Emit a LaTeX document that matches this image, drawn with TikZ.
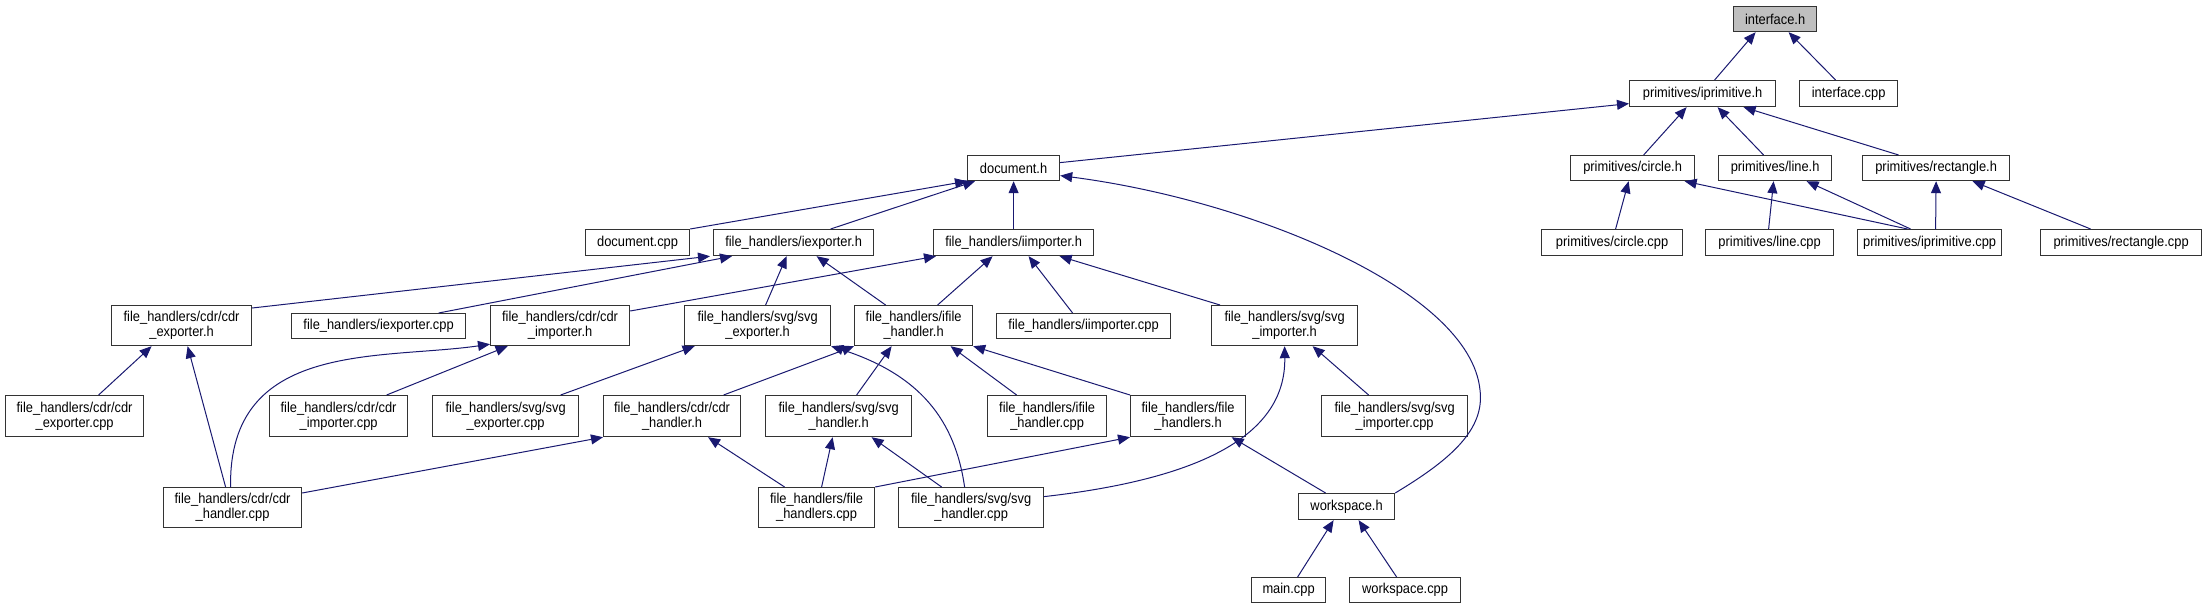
\documentclass[tikz,border=0pt]{standalone}
\usepackage{fontspec}
\setmainfont{Liberation Sans}[FakeStretch=0.9]
\usetikzlibrary{arrows.meta}
\definecolor{edgec}{RGB}{25,25,112}
\definecolor{boxgray}{RGB}{191,191,191}
\begin{document}
\begin{tikzpicture}[x=1pt,y=-1pt,
  box/.style={draw=black!80, line width=1.2pt, fill=white, inner sep=0pt, align=center, anchor=north west, font=\fontsize{14.3pt}{14.8pt}\selectfont},
  edge/.style={draw=edgec, line width=1pt, -{Triangle[length=12pt,width=10pt]}}]
\useasboundingbox (0,0) rectangle (2205,608);
% row 0
\node[box, fill=boxgray, minimum width=83pt, minimum height=25pt] (interface) at (1733,6) {interface.h};
% row 1
\node[box, minimum width=146pt, minimum height=26pt] (iprimitive) at (1629,80) {primitives/iprimitive.h};
\node[box, minimum width=98pt, minimum height=26pt] (interfacecpp) at (1799,80) {interface.cpp};
% row 2
\node[box, minimum width=92pt, minimum height=25pt] (document) at (967,155) {document.h};
\node[box, minimum width=124pt, minimum height=25pt] (circleh) at (1570,155) {primitives/circle.h};
\node[box, minimum width=113pt, minimum height=25pt] (lineh) at (1718,155) {primitives/line.h};
\node[box, minimum width=147pt, minimum height=25pt] (recth) at (1862,155) {primitives/rectangle.h};
% row 3
\node[box, minimum width=104pt, minimum height=26pt] (documentcpp) at (585,229) {document.cpp};
\node[box, minimum width=160pt, minimum height=26pt] (iexporter) at (713,229) {file\_handlers/iexporter.h};
\node[box, minimum width=160pt, minimum height=26pt] (iimporter) at (933,229) {file\_handlers/iimporter.h};
\node[box, minimum width=141pt, minimum height=26pt] (circlecpp) at (1541,229) {primitives/circle.cpp};
\node[box, minimum width=128pt, minimum height=26pt] (linecpp) at (1705,229) {primitives/line.cpp};
\node[box, minimum width=144pt, minimum height=26pt] (iprimcpp) at (1857,229) {primitives/iprimitive.cpp};
\node[box, minimum width=161pt, minimum height=26pt] (rectcpp) at (2040,229) {primitives/rectangle.cpp};
% row 4
\node[box, minimum width=140pt, minimum height=40pt] (cdrexph) at (111,305) {file\_handlers/cdr/cdr\\\_exporter.h};
\node[box, minimum width=174pt, minimum height=25pt] (iexportercpp) at (291,313) {file\_handlers/iexporter.cpp};
\node[box, minimum width=139pt, minimum height=40pt] (cdrimph) at (490,305) {file\_handlers/cdr/cdr\\\_importer.h};
\node[box, minimum width=146pt, minimum height=40pt] (svgexph) at (684,305) {file\_handlers/svg/svg\\\_exporter.h};
\node[box, minimum width=118pt, minimum height=40pt] (ifileh) at (854,305) {file\_handlers/ifile\\\_handler.h};
\node[box, minimum width=174pt, minimum height=25pt] (iimportercpp) at (996,313) {file\_handlers/iimporter.cpp};
\node[box, minimum width=146pt, minimum height=40pt] (svgimph) at (1211,305) {file\_handlers/svg/svg\\\_importer.h};
% row 5
\node[box, minimum width=138pt, minimum height=41pt] (cdrexpcpp) at (5,395) {file\_handlers/cdr/cdr\\\_exporter.cpp};
\node[box, minimum width=138pt, minimum height=41pt] (cdrimpcpp) at (269,395) {file\_handlers/cdr/cdr\\\_importer.cpp};
\node[box, minimum width=146pt, minimum height=41pt] (svgexpcpp) at (432,395) {file\_handlers/svg/svg\\\_exporter.cpp};
\node[box, minimum width=137pt, minimum height=41pt] (cdrhandh) at (603,395) {file\_handlers/cdr/cdr\\\_handler.h};
\node[box, minimum width=146pt, minimum height=41pt] (svghandh) at (765,395) {file\_handlers/svg/svg\\\_handler.h};
\node[box, minimum width=119pt, minimum height=41pt] (ifilecpp) at (987,395) {file\_handlers/ifile\\\_handler.cpp};
\node[box, minimum width=115pt, minimum height=41pt] (fhandh) at (1130,395) {file\_handlers/file\\\_handlers.h};
\node[box, minimum width=146pt, minimum height=41pt] (svgimpcpp) at (1321,395) {file\_handlers/svg/svg\\\_importer.cpp};
% row 6
\node[box, minimum width=138pt, minimum height=40pt] (cdrhandcpp) at (163,487) {file\_handlers/cdr/cdr\\\_handler.cpp};
\node[box, minimum width=116pt, minimum height=40pt] (fhandcpp) at (758,487) {file\_handlers/file\\\_handlers.cpp};
\node[box, minimum width=145pt, minimum height=40pt] (svghandcpp) at (898,487) {file\_handlers/svg/svg\\\_handler.cpp};
\node[box, minimum width=96pt, minimum height=26pt] (workspace) at (1298,493) {workspace.h};
% row 7
\node[box, minimum width=74pt, minimum height=25pt] (maincpp) at (1251,577) {main.cpp};
\node[box, minimum width=111pt, minimum height=25pt] (workspacecpp) at (1349,577) {workspace.cpp};
% edges
\draw[edge] ([xshift=12pt]iprimitive.north) -- ([xshift=-19.5pt]interface.south);
\draw[edge] ([xshift=-13pt]interfacecpp.north) -- ([xshift=13.5pt]interface.south);
\draw[edge] ([yshift=5.5pt]document.east) -- ([yshift=-10pt]iprimitive.west);
\draw[edge] ([xshift=11pt]circleh.north) -- ([xshift=-16pt]iprimitive.south);
\draw[edge] ([xshift=-11.5pt]lineh.north) -- ([xshift=15pt]iprimitive.south);
\draw[edge] ([xshift=-37.5pt]recth.north) -- ([xshift=41pt]iprimitive.south);
\draw[edge] ([xshift=3.5pt]circlecpp.north) -- ([xshift=-4pt]circleh.south);
\draw[edge] ([xshift=-22pt]iprimcpp.north) -- ([xshift=52pt]circleh.south);
\draw[edge] ([xshift=-1pt]linecpp.north) -- ([xshift=-1.5pt]lineh.south);
\draw[edge] ([xshift=-19pt]iprimcpp.north) -- ([xshift=31.5pt]lineh.south);
\draw[edge] ([xshift=6pt]iprimcpp.north) -- (recth.south);
\draw[edge] ([xshift=-30.5pt]rectcpp.north) -- ([xshift=36.5pt]recth.south);
\draw[edge] (documentcpp.north east) -- (document.south west);
\draw[edge] ([xshift=37pt]iexporter.north) -- ([xshift=8pt]document.south west);
\draw[edge] (iimporter.north) -- (document.south);
\draw[edge] (workspace.north east) .. controls (1450,460) and (1485,430) .. (1480,390) .. controls (1470,290) and (1250,200) .. ([yshift=-7.5pt]document.east);
\draw[edge] ([yshift=-3pt]cdrexph.north east) -- ([xshift=-3pt]iexporter.south west);
\draw[edge] ([xshift=60pt]iexportercpp.north) -- ([xshift=19pt]iexporter.south west);
\draw[edge] ([xshift=8pt]svgexph.north) -- ([xshift=-7pt]iexporter.south);
\draw[edge] ([xshift=-28pt]ifileh.north) -- ([xshift=23pt]iexporter.south);
\draw[edge] ([yshift=-6pt]cdrimph.north east) -- ([xshift=3pt]iimporter.south west);
\draw[edge] ([xshift=24pt]ifileh.north) -- ([xshift=-21pt]iimporter.south);
\draw[edge] ([xshift=-11pt]iimportercpp.north) -- ([xshift=15pt]iimporter.south);
\draw[edge] ([xshift=9pt]svgimph.north west) -- ([xshift=46pt]iimporter.south);
\draw[edge] ([xshift=24pt]cdrexpcpp.north) -- ([xshift=-30pt]cdrexph.south);
\draw[edge] ([xshift=-7pt]cdrhandcpp.north) -- ([xshift=6pt]cdrexph.south);
\draw[edge] ([xshift=48pt]cdrimpcpp.north) -- ([xshift=-52.5pt]cdrimph.south);
\draw[edge] ([xshift=-2pt]cdrhandcpp.north) .. controls (228,340) and (380,360) .. ([yshift=2pt]cdrimph.south west);
\draw[edge] ([xshift=55pt]svgexpcpp.north) -- ([xshift=-63pt]svgexph.south);
\draw[edge] ([xshift=-6.5pt]svghandcpp.north) .. controls (955,420) and (920,375) .. (svgexph.south east);
\draw[edge] ([xshift=51.5pt]cdrhandh.north) -- (ifileh.south west);
\draw[edge] ([xshift=18pt]svghandh.north) -- ([xshift=-22pt]ifileh.south);
\draw[edge] ([xshift=-30.5pt]ifilecpp.north) -- ([xshift=37pt]ifileh.south);
\draw[edge] (fhandh.north west) -- (ifileh.south east);
\draw[edge] ([yshift=11pt]svghandcpp.east) .. controls (1190,480) and (1286,440) .. (svgimph.south);
\draw[edge] ([xshift=-26pt]svgimpcpp.north) -- ([xshift=28pt]svgimph.south);
\draw[edge] ([yshift=-6pt]cdrhandcpp.north east) -- (cdrhandh.south west);
\draw[edge] ([xshift=-32pt]fhandcpp.north) -- ([xshift=36pt]cdrhandh.south);
\draw[edge] ([xshift=5pt]fhandcpp.north) -- ([xshift=-6pt]svghandh.south);
\draw[edge] ([xshift=-29.5pt]svghandcpp.north) -- ([xshift=33pt]svghandh.south);
\draw[edge] (fhandcpp.north east) -- (fhandh.south west);
\draw[edge] ([xshift=-21pt]workspace.north) -- ([xshift=43.5pt]fhandh.south);
\draw[edge] ([xshift=9pt]maincpp.north) -- ([xshift=-13pt]workspace.south);
\draw[edge] ([xshift=-8.5pt]workspacecpp.north) -- ([xshift=12pt]workspace.south);
\end{tikzpicture}
\end{document}
